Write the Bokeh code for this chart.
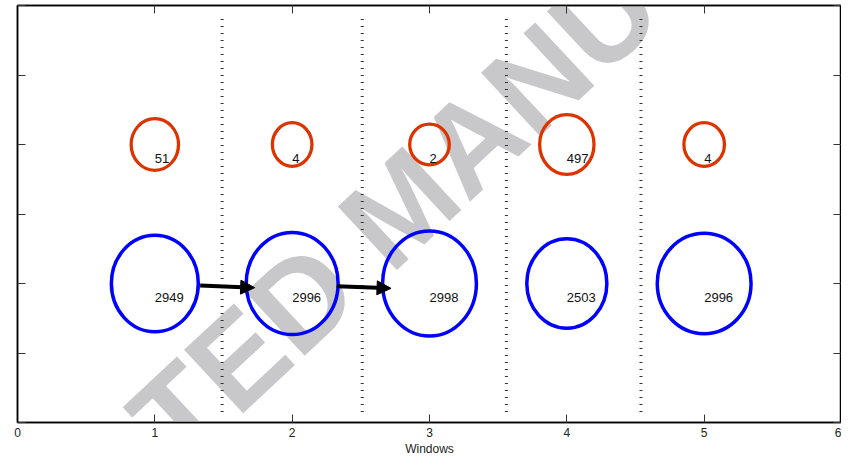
from bokeh.plotting import figure
from bokeh.models import (Range1d, LinearAxis, FixedTicker, Arrow, NormalHead, Label,
                          ColumnDataSource, CustomJSTickFormatter)
from bokeh.embed import file_html
from bokeh.resources import INLINE
from bokeh.core.properties import value

# ---- data ----
windows = [1, 2, 3, 4, 5]

red_level = [4, 4, 4, 4, 4]
red_counts = ["51", "4", "2", "497", "4"]
red_w = [0.345, 0.288, 0.288, 0.396, 0.295]
red_h = [0.743, 0.629, 0.586, 0.857, 0.629]

blue_level = [2, 2, 2, 2, 2]
blue_counts = ["2949", "2996", "2998", "2503", "2996"]
blue_w = [0.633, 0.669, 0.683, 0.583, 0.683]
blue_h = [1.386, 1.471, 1.514, 1.286, 1.443]

count_offset = 0.2  # labels sit just below each ellipse centre

sep_x = [1.49, 2.51, 3.56, 4.54]
sep_y0 = [0.15, 0.15, 0.15, 0.15]
sep_y1 = [5.85, 5.85, 5.85, 5.85]

arrow_x0 = [1.33, 2.325]
arrow_y0 = [1.97, 1.96]
arrow_x1 = [1.727, 2.72]
arrow_y1 = [1.94, 1.93]

x_ticks = [0, 1, 2, 3, 4, 5, 6]
y_ticks = [0, 1, 2, 3, 4, 5, 6]

watermark = "ACCEPTED MANUSCRIPT"
wm_x, wm_y, wm_angle = 2.80, 3.12, 43

# ---- figure ----
p = figure(width=841, height=458, x_range=Range1d(0, 6), y_range=Range1d(0, 6),
           output_backend="svg", toolbar_location=None,
           min_border_left=17, min_border_right=0, min_border_top=5, min_border_bottom=30)
p.grid.visible = False
p.outline_line_color = "black"
p.outline_line_width = 1.5
p.background_fill_color = "white"
p.border_fill_color = "white"

tick_font = "Liberation Sans"
blank = CustomJSTickFormatter(code="return '';")

def style_axis(ax, ticks, labels=True):
    ax.ticker = FixedTicker(ticks=ticks)
    ax.major_tick_in = 8
    ax.major_tick_out = 0
    ax.minor_tick_line_color = None
    ax.axis_line_color = "black"
    ax.axis_line_width = 1.5
    ax.major_tick_line_color = "#333333"
    ax.major_tick_line_width = 1
    if not labels:
        ax.formatter = blank
        ax.major_label_text_font_size = "1px"
        ax.major_label_standoff = 0

xa = p.xaxis[0]
style_axis(xa, x_ticks)
xa.major_label_text_font = tick_font
xa.major_label_text_font_size = "12px"
xa.major_label_text_color = "#222222"
xa.major_label_standoff = 5
xa.axis_label = "Windows"
xa.axis_label_text_font = tick_font
xa.axis_label_text_font_size = "12px"
xa.axis_label_text_font_style = "normal"
xa.axis_label_text_color = "#222222"
xa.axis_label_standoff = 2

style_axis(p.yaxis[0], y_ticks, labels=False)

top_ax = LinearAxis()
style_axis(top_ax, x_ticks, labels=False)
p.add_layout(top_ax, "above")

right_ax = LinearAxis()
style_axis(right_ax, y_ticks, labels=False)
p.add_layout(right_ax, "right")

# watermark (behind data)
p.add_layout(Label(x=wm_x, y=wm_y, text=watermark, angle=wm_angle, angle_units="deg",
                   text_align="center", text_baseline="middle",
                   text_font="Liberation Sans", text_font_style="bold",
                   text_font_size="126px", text_color="#c8c8ca", level="underlay"))

# separators
p.segment(x0=sep_x, y0=sep_y0, x1=sep_x, y1=sep_y1, line_color="#333333",
          line_width=3, line_dash="1 6")

# ellipses
red_src = ColumnDataSource(dict(x=windows, y=red_level, w=red_w, h=red_h,
                                t=red_counts, ty=[v - count_offset for v in red_level]))
blue_src = ColumnDataSource(dict(x=windows, y=blue_level, w=blue_w, h=blue_h,
                                 t=blue_counts, ty=[v - count_offset for v in blue_level]))

p.ellipse(x="x", y="y", width="w", height="h", source=red_src, fill_color=None,
          line_color="#dd3300", line_width=3.3)
p.ellipse(x="x", y="y", width="w", height="h", source=blue_src, fill_color=None,
          line_color="#0000ff", line_width=3.5)

for src in (red_src, blue_src):
    p.text(x="x", y="ty", text="t", source=src, text_align="left", text_baseline="middle",
           text_font=value("Liberation Sans"), text_font_size="13px", text_color="#111111")

# arrows
for xs, ys, xe, ye in zip(arrow_x0, arrow_y0, arrow_x1, arrow_y1):
    p.add_layout(Arrow(x_start=xs, y_start=ys, x_end=xe, y_end=ye,
                       line_color="black", line_width=4,
                       end=NormalHead(size=14, fill_color="black", line_color="black")))

open("out.html", "w").write(file_html(p, INLINE))
